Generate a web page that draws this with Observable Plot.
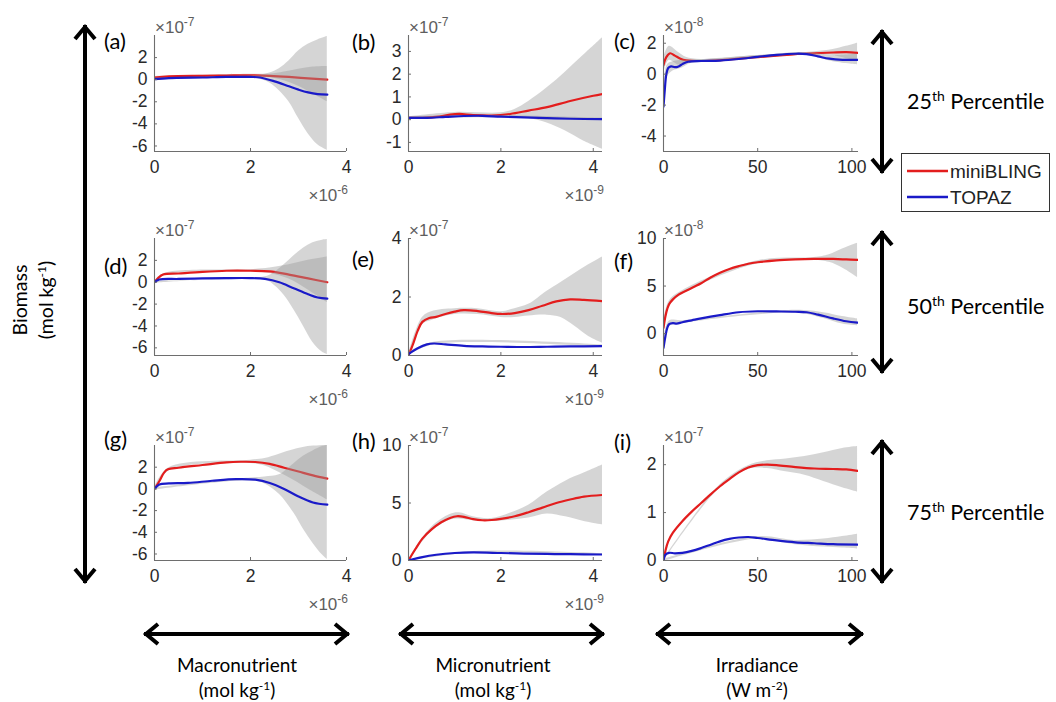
<!DOCTYPE html>
<html>
<head>
<meta charset="utf-8">
<script src="https://cdn.jsdelivr.net/npm/d3@7"></script>
<script src="https://cdn.jsdelivr.net/npm/@observablehq/plot@0.6"></script>
<style>
  html, body { margin: 0; padding: 0; background: #fff; }
  #root { position: relative; width: 1056px; height: 702px; overflow: hidden; background: #fff; }
  #root > svg.panel { position: absolute; }
  #overlay { position: absolute; left: 0; top: 0; pointer-events: none; }
  .cal { font-family: Lato, "Open Sans", sans-serif; }
  .ari { font-family: "Liberation Sans", Arial, sans-serif; }
</style>
</head>
<body>
<div id="root"></div>
<script>
// ---------------- data (x in axis units, y in axis units) ----------------
// (a) macronutrient, 25th percentile  (x ×1e-6, y ×1e-7)
const a_red = [[0,0.2],[0.3,0.3],[1,0.35],[1.5,0.38],[2,0.4],[2.4,0.35],[2.8,0.25],[3.2,0.12],[3.6,0.0]];
const a_blue = [[0,0.05],[0.3,0.15],[1,0.2],[1.5,0.25],[2,0.25],[2.2,0.2],[2.5,-0.15],[2.8,-0.6],[3.0,-0.9],[3.2,-1.15],[3.4,-1.3],[3.6,-1.35]];
const a_bandRed = [[0,0.1,0.3],[2,0.3,0.5],[2.4,0.2,0.5],[2.7,-0.1,0.7],[3.0,-0.6,0.95],[3.3,-1.3,1.15],[3.6,-2.0,1.2]];
const a_bandBlue = [[0,-0.05,0.15],[2,0.15,0.35],[2.2,0.05,0.4],[2.4,-0.3,0.6],[2.6,-1.0,1.0],[2.8,-2.0,1.7],[3.0,-3.5,2.6],[3.2,-4.9,3.2],[3.4,-5.9,3.6],[3.6,-6.4,3.9]];

// (b) micronutrient, 25th percentile  (x ×1e-9, y ×1e-7)
const b_red = [[0,0.08],[0.3,0.08],[0.6,0.12],[0.9,0.22],[1.1,0.25],[1.4,0.2],[1.8,0.18],[2.2,0.25],[2.6,0.4],[3.0,0.55],[3.5,0.82],[4.0,1.05],[4.2,1.13]];
const b_blue = [[0,0.08],[0.4,0.08],[0.8,0.12],[1.2,0.16],[1.6,0.17],[2.0,0.13],[2.5,0.1],[3.0,0.07],[3.5,0.04],[4.2,0.02]];
const b_bandRed = [[0,0.03,0.13],[1.0,0.15,0.32],[2.0,0.12,0.3],[2.3,0.1,0.45],[2.6,0.05,0.8],[3.0,-0.15,1.4],[3.4,-0.5,2.1],[3.8,-0.95,2.85],[4.2,-1.3,3.6]];
const b_bandBlue = [[0,0.03,0.13],[2.0,0.08,0.18],[4.2,-0.03,0.07]];

// (c) irradiance, 25th percentile  (x W m-2, y ×1e-8)
const c_red = [[0,0.6],[1.5,1.1],[3.5,1.35],[6,1.2],[9,1.0],[12,0.9],[20,0.85],[30,0.9],[40,1.0],[50,1.1],[60,1.2],[70,1.3],[80,1.35],[90,1.4],[97,1.42],[103,1.38]];
const c_blue = [[0,-2.1],[0.7,-1.0],[1.5,0.0],[2.5,0.4],[4,0.5],[6,0.45],[8,0.5],[10,0.65],[13,0.8],[20,0.85],[30,0.88],[40,0.98],[50,1.12],[60,1.25],[70,1.32],[76,1.3],[82,1.15],[88,1.0],[95,0.93],[103,0.93]];
const c_bandRed = [[0,0.0,1.0],[3,0.9,1.8],[8,0.6,1.4],[12,0.7,1.1],[20,0.75,0.95],[50,1.0,1.2],[80,1.25,1.45],[90,1.2,1.6],[97,1.0,1.8],[103,0.85,2.0]];
const c_bandBlue = [[0,-2.5,-1.7],[2,-0.2,0.6],[5,0.2,0.8],[10,0.4,0.9],[15,0.7,0.9],[50,1.05,1.2],[76,1.2,1.4],[90,0.8,1.2],[103,0.6,1.3]];

// (d) macronutrient, 50th percentile
const d_red = [[0,0],[0.08,0.4],[0.18,0.7],[0.5,0.8],[1,0.95],[1.5,1.05],[2,1.05],[2.4,1.0],[2.8,0.7],[3.2,0.35],[3.6,0.0]];
const d_blue = [[0,0],[0.1,0.25],[0.5,0.3],[1,0.35],[1.5,0.38],[2,0.38],[2.3,0.3],[2.6,0.0],[2.9,-0.55],[3.2,-1.1],[3.4,-1.4],[3.6,-1.5]];
const d_bandRed = [[0,-0.1,0.1],[0.2,0.6,0.8],[2.0,0.95,1.15],[2.4,0.8,1.3],[2.8,0.3,1.6],[3.2,-0.7,2.0],[3.6,-1.85,2.3]];
const d_bandBlue = [[0,-0.1,0.1],[2.3,0.2,0.5],[2.5,-0.3,0.9],[2.7,-1.2,1.6],[2.9,-2.5,2.4],[3.1,-4.0,3.1],[3.3,-5.5,3.6],[3.5,-6.4,3.85],[3.6,-6.6,3.9]];

// (e) micronutrient, 50th percentile
const e_red = [[0,0],[0.1,0.4],[0.2,0.85],[0.3,1.15],[0.45,1.28],[0.6,1.32],[0.8,1.42],[1.0,1.5],[1.2,1.55],[1.5,1.52],[1.8,1.45],[2.0,1.42],[2.3,1.45],[2.6,1.55],[2.9,1.7],[3.2,1.85],[3.5,1.92],[3.8,1.9],[4.2,1.86]];
const e_blue = [[0,0.05],[0.2,0.25],[0.4,0.38],[0.55,0.41],[0.8,0.38],[1.2,0.33],[1.6,0.31],[2.0,0.3],[2.5,0.29],[3.0,0.3],[3.5,0.31],[4.2,0.32]];
const e_bandRed = [[0,-0.05,0.05],[0.3,1.05,1.3],[0.5,1.2,1.5],[1.0,1.4,1.6],[1.5,1.4,1.6],[2.0,1.3,1.5],[2.3,1.3,1.6],[2.6,1.35,1.75],[3.0,1.38,2.2],[3.3,1.3,2.5],[3.6,1.0,2.8],[3.9,0.65,3.1],[4.2,0.42,3.37]];
const e_bandBlue = [[0,0.0,0.1],[0.55,0.37,0.45],[4.2,0.28,0.36]];

// (f) irradiance, 50th percentile  (y ×1e-8)
const f_red = [[0,0.6],[1,1.8],[2,2.6],[3,3.1],[5,3.6],[8,4.1],[12,4.5],[16,4.9],[20,5.3],[25,5.9],[30,6.4],[35,6.8],[40,7.1],[45,7.35],[50,7.5],[60,7.7],[70,7.8],[80,7.85],[90,7.85],[97,7.8],[103,7.75]];
const f_blue = [[0,-1.5],[1,-0.3],[2,0.6],[3,1.0],[5,1.1],[7,1.05],[10,1.2],[15,1.4],[20,1.6],[30,1.95],[40,2.25],[50,2.35],[60,2.33],[70,2.3],[76,2.25],[82,2.0],[90,1.6],[97,1.3],[103,1.15]];
const f_bandRed = [[0,0.1,1.1],[3,2.8,3.4],[10,4.1,4.5],[50,7.35,7.65],[80,7.7,8.0],[88,7.5,8.3],[95,6.9,8.9],[103,5.9,9.5]];
const f_bandBlue = [[0,-2.0,-1.0],[3,0.7,1.3],[10,1.05,1.35],[70,2.15,2.45],[85,1.6,2.2],[95,1.0,1.8],[103,0.8,1.55]];

// (g) macronutrient, 75th percentile
const g_red = [[0,0],[0.1,0.7],[0.2,1.5],[0.28,1.8],[0.5,1.95],[1.0,2.2],[1.5,2.45],[1.8,2.5],[2.1,2.48],[2.4,2.3],[2.7,1.95],[3.0,1.6],[3.3,1.25],[3.6,0.95]];
const g_blue = [[0,0],[0.1,0.4],[0.3,0.5],[0.7,0.55],[1.2,0.75],[1.7,0.9],[2.1,0.85],[2.4,0.55],[2.7,0.0],[3.0,-0.7],[3.3,-1.25],[3.6,-1.45]];
const g_bandRed = [[0,-0.1,0.1],[0.3,1.65,1.95],[2.0,2.35,2.65],[2.3,2.1,2.8],[2.6,1.5,3.2],[2.9,0.8,3.6],[3.2,0.0,3.9],[3.6,-1.0,4.0]];
const g_bandBlue = [[0,-0.1,0.1],[2.0,0.75,1.0],[2.3,0.45,1.1],[2.6,-0.5,1.3],[2.9,-2.2,2.3],[3.1,-3.7,3.0],[3.3,-5.0,3.5],[3.5,-6.1,3.9],[3.6,-6.5,4.0]];

// (h) micronutrient, 75th percentile
const h_red = [[0,0],[0.15,1.0],[0.3,1.9],[0.5,2.7],[0.7,3.3],[0.9,3.7],[1.05,3.85],[1.2,3.8],[1.4,3.6],[1.6,3.5],[1.8,3.52],[2.0,3.62],[2.3,3.85],[2.6,4.2],[2.9,4.6],[3.2,5.0],[3.5,5.3],[3.8,5.55],[4.2,5.7]];
const h_blue = [[0,0],[0.3,0.3],[0.6,0.5],[1.0,0.65],[1.4,0.7],[2.0,0.65],[2.5,0.6],[3.0,0.57],[3.5,0.55],[4.2,0.52]];
const h_bandRed = [[0,-0.1,0.1],[0.5,2.5,2.9],[0.9,3.5,4.0],[1.1,3.6,4.15],[1.4,3.45,3.8],[1.8,3.4,3.65],[2.2,3.5,4.1],[2.6,3.7,4.8],[3.0,4.05,5.95],[3.4,3.8,6.9],[3.8,3.4,7.6],[4.2,3.1,8.3]];
const h_bandBlue = [[0,-0.05,0.05],[1.4,0.62,0.78],[4.2,0.45,0.6]];

// (i) irradiance, 75th percentile  (y ×1e-7)
const i_red = [[0,0],[1,0.2],[2.5,0.4],[5,0.58],[10,0.82],[15,1.02],[20,1.2],[25,1.38],[30,1.55],[35,1.7],[40,1.84],[45,1.94],[50,1.99],[55,2.0],[60,1.99],[70,1.95],[80,1.92],[90,1.91],[97,1.9],[103,1.87]];
const i_blue = [[0,0],[1,0.12],[3,0.16],[6,0.15],[10,0.16],[15,0.2],[20,0.26],[25,0.33],[30,0.4],[35,0.45],[40,0.48],[45,0.49],[50,0.47],[60,0.42],[70,0.38],[80,0.36],[90,0.34],[103,0.33]];
const i_bandRed = [[0,-0.02,0.02],[30,1.52,1.58],[45,1.9,1.98],[55,1.92,2.08],[65,1.85,2.12],[75,1.78,2.17],[85,1.65,2.25],[95,1.52,2.34],[103,1.43,2.38]];
const i_bandBlue = [[0,-0.02,0.02],[50,0.45,0.5],[70,0.33,0.42],[85,0.28,0.45],[95,0.26,0.5],[103,0.24,0.55]];

// axis domains / ticks / exponents
const panelLabels = ["(a)","(b)","(c)","(d)","(e)","(f)","(g)","(h)","(i)"];
const xDomains = [[0,4],[0,4.2],[0,103.5]];
const xTicks = [[0,2,4],[0,2,4],[0,50,100]];
const xExponents = ["-6","-9",null];
const yDomains = [[-6.5,4],[-1.4,3.7],[-5,2.5],[-6.7,4],[0,4],[-2.3,10],[-6.6,4],[0,10],[0,2.4]];
const yTicks = [[-6,-4,-2,0,2],[-1,0,1,2,3],[-4,-2,0,2],[-6,-4,-2,0,2],[0,2,4],[0,5,10],[-6,-4,-2,0,2],[0,5,10],[0,1,2]];
const yExponents = ["-7","-7","-8","-7","-7","-8","-7","-7","-7"];
const rowLabels = ["25","50","75"];
const colLabels = ["Macronutrient","Micronutrient","Irradiance"];
const colUnits = [["(mol kg","-1",")"],["(mol kg","-1",")"],["(W m","-2",")"]];
const seriesNames = ["miniBLING","TOPAZ"];
const seriesColors = ["#e31d1d","#1a1ac8"];

const reds = [a_red,b_red,c_red,d_red,e_red,f_red,g_red,h_red,i_red];
const blues = [a_blue,b_blue,c_blue,d_blue,e_blue,f_blue,g_blue,h_blue,i_blue];
const bandReds = [a_bandRed,b_bandRed,c_bandRed,d_bandRed,e_bandRed,f_bandRed,g_bandRed,h_bandRed,i_bandRed];
const bandBlues = [a_bandBlue,b_bandBlue,c_bandBlue,d_bandBlue,e_bandBlue,f_bandBlue,g_bandBlue,h_bandBlue,i_bandBlue];

// ---------------- layout ----------------
const colPx = [[154,346],[408,602],[663,858]];
const rowPx = [[35,151],[238,355],[445,560]];
const root = document.getElementById("root");
const ML = 45, MR = 15, MT = 5, MB = 35;
const fmt = d => String(d);
const bandFill = "#9c9c9c", bandOp = 0.42;

for (let k = 0; k < 9; k++) {
  const r = Math.floor(k / 3), c = k % 3;
  const [x0, x1] = colPx[c], [y0, y1] = rowPx[r];
  const xd = xDomains[c], yd = yDomains[k];
  const chart = Plot.plot({
    width: x1 - x0 + ML + MR,
    height: y1 - y0 + MT + MB,
    marginLeft: ML, marginRight: MR, marginTop: MT, marginBottom: MB,
    x: {domain: xd},
    y: {domain: yd},
    style: {background: "transparent", fontFamily: "'Liberation Sans', Arial, sans-serif", fontSize: "17.5px", color: "#2a2a2a", overflow: "visible"},
    marks: [
      Plot.areaY(bandReds[k], {x: d => d[0], y1: d => d[1], y2: d => d[2], fill: bandFill, fillOpacity: bandOp, curve: "catmull-rom", clip: true}),
      Plot.lineY(reds[k], {x: d => d[0], y: d => d[1], stroke: seriesColors[0], strokeWidth: 2.2, curve: "catmull-rom", clip: true}),
      Plot.areaY(bandBlues[k], {x: d => d[0], y1: d => d[1], y2: d => d[2], fill: bandFill, fillOpacity: bandOp, curve: "catmull-rom", clip: true}),
      Plot.lineY(blues[k], {x: d => d[0], y: d => d[1], stroke: seriesColors[1], strokeWidth: 2.2, curve: "catmull-rom", clip: true}),
      Plot.ruleX([xd[0]], {stroke: "#6e6e6e", strokeWidth: 1.1}),
      Plot.ruleY([yd[0]], {stroke: "#6e6e6e", strokeWidth: 1.1}),
      Plot.axisX({ticks: xTicks[c], tickFormat: fmt, tickSize: -3, tickPadding: 12, stroke: "#6e6e6e", label: null}),
      Plot.axisY({ticks: yTicks[k], tickFormat: fmt, tickSize: -3, tickPadding: 10, stroke: "#6e6e6e", label: null})
    ]
  });
  chart.classList.add("panel");
  chart.style.left = (x0 - ML) + "px";
  chart.style.top = (y0 - MT) + "px";
  root.appendChild(chart);
}

// ---------------- annotation overlay ----------------
const NS = "http://www.w3.org/2000/svg";
const ov = document.createElementNS(NS, "svg");
ov.setAttribute("id", "overlay");
ov.setAttribute("width", 1056);
ov.setAttribute("height", 702);
root.appendChild(ov);
function el(tag, attrs, parent = ov) {
  const e = document.createElementNS(NS, tag);
  for (const a in attrs) e.setAttribute(a, attrs[a]);
  parent.appendChild(e);
  return e;
}
function txt(x, y, parts, attrs, parent = ov) {
  const t = el("text", Object.assign({x, y}, attrs), parent);
  for (const p of parts) {
    const s = el("tspan", {}, t);
    s.textContent = p.t;
    if (p.sup) { s.setAttribute("font-size", p.size || 12); s.setAttribute("dy", -(p.rise || 7)); }
    if (p.down) { s.setAttribute("dy", p.down); }
  }
  return t;
}
// exponents and panel labels
const labelPos = [[104,49],[352,50],[614,49],[104,274],[352,267],[614,269],[104,447],[352,449],[614,450]];
for (let k = 0; k < 9; k++) {
  const r = Math.floor(k / 3), c = k % 3;
  const [x0, x1] = colPx[c], [y0, y1] = rowPx[r];
  txt(x0 + 1, y0 - 2, [{t: "×10"}, {t: yExponents[k], sup: true}], {class: "ari", "font-size": 17, fill: "#5e5e5e"});
  if (xExponents[c]) {
    txt(x1 + 2, y1 + 50, [{t: "×10"}, {t: xExponents[c], sup: true}], {class: "ari", "font-size": 17, fill: "#5e5e5e", "text-anchor": "end"});
  }
  txt(labelPos[k][0], labelPos[k][1], [{t: panelLabels[k]}], {class: "cal", "font-size": 22, fill: "#000"});
}
// arrows
function arrow(x1, y1, x2, y2) {
  const g = el("g", {stroke: "#000", "stroke-width": 4, fill: "none", "stroke-linejoin": "miter", "stroke-linecap": "butt"});
  el("line", {x1, y1, x2, y2}, g);
  const L = 12, Wd = 10;
  const dx = x2 - x1, dy = y2 - y1, len = Math.hypot(dx, dy), ux = dx / len, uy = dy / len, px = -uy, py = ux;
  const head = (tx, ty, s) => el("polyline", {points: `${tx + s*ux*L + px*Wd},${ty + s*uy*L + py*Wd} ${tx},${ty} ${tx + s*ux*L - px*Wd},${ty + s*uy*L - py*Wd}`}, g);
  head(x1 + ux*2, y1 + uy*2, 1);
  head(x2 - ux*2, y2 - uy*2, -1);
}
arrow(85, 25, 85, 583);
arrow(882, 30, 882, 173);
arrow(882, 231, 882, 373);
arrow(882, 440, 882, 583);
arrow(144, 634, 349, 634);
arrow(399, 634, 604, 634);
arrow(656, 634, 863, 634);
// row labels
const rowY = [109, 314, 520];
for (let r = 0; r < 3; r++) {
  txt(907, rowY[r], [{t: rowLabels[r]}, {t: "th", sup: true, size: 14, rise: 8}, {t: " Percentile", down: 8}], {class: "cal", "font-size": 21.5, fill: "#000"});
}
// column labels
const colCx = [237, 493, 757];
for (let c = 0; c < 3; c++) {
  txt(colCx[c], 672, [{t: colLabels[c]}], {class: "cal", "font-size": 19, fill: "#000", "text-anchor": "middle"});
  const u = colUnits[c];
  txt(colCx[c], 697, [{t: u[0]}, {t: u[1], sup: true, size: 12}, {t: u[2], down: 7}], {class: "cal", "font-size": 19, fill: "#000", "text-anchor": "middle"});
}
// y title
const ytg = el("g", {transform: "translate(27,300) rotate(-90)"});
txt(0, 0, [{t: "Biomass"}], {class: "cal", "font-size": 19.5, fill: "#000", "text-anchor": "middle"}, ytg);
txt(0, 26, [{t: "(mol kg"}, {t: "-1", sup: true, size: 12}, {t: ")", down: 7}], {class: "cal", "font-size": 19.5, fill: "#000", "text-anchor": "middle"}, ytg);
// legend
el("rect", {x: 901.5, y: 153.5, width: 148, height: 58, fill: "#fff", stroke: "#333", "stroke-width": 1});
const legY = [171, 197];
for (let s = 0; s < 2; s++) {
  el("line", {x1: 907, x2: 948, y1: legY[s], y2: legY[s], stroke: seriesColors[s], "stroke-width": 2.5});
  txt(950, legY[s] + 7, [{t: seriesNames[s]}], {class: "ari", "font-size": 19, fill: "#222"});
}
</script>
</body>
</html>
